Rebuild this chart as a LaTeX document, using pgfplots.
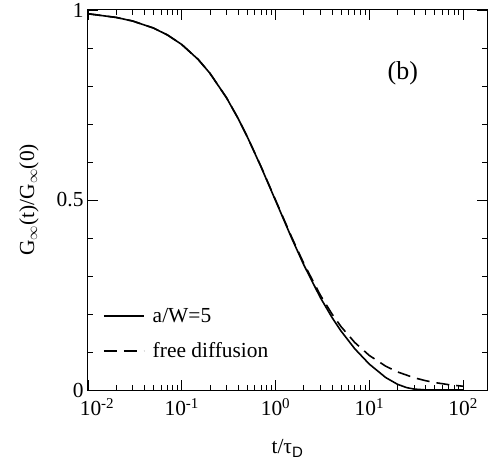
\documentclass[border=0pt]{standalone}
\usepackage{fontspec}
\setmainfont{Liberation Serif}
\setsansfont{Liberation Sans}
\usepackage{pgfplots}
\pgfplotsset{compat=1.18}
\newcommand{\bigf}{\fontsize{21.5}{25}\selectfont}
\begin{document}
\begin{tikzpicture}[font=\bigf]
\begin{axis}[
  scale only axis,
  width=399bp, height=380bp,
  xmode=log,
  xmin=0.01, xmax=180,
  ymin=0, ymax=1,
  axis line style={line width=1bp},
  every tick/.style={black, line width=0.8bp},
  major tick length=10bp, minor tick length=5bp,
  xtick={0.01,0.1,1,10,100},
  xticklabels={\hspace{18bp}10\textsuperscript{-2},10\textsuperscript{-1},10\textsuperscript{0},10\textsuperscript{1},10\textsuperscript{2}},
  ytick={0,0.5,1},
  yticklabels={0,0.5,1},
  minor ytick={0.1,0.2,0.3,0.4,0.6,0.7,0.8,0.9},
  tick label style={font=\bigf},
  xticklabel style={yshift=-5bp},
  yticklabel style={xshift=-1bp},
  xlabel={t/τ\textsubscript{\sffamily D}},
  ylabel={G$_\infty$(t)/G$_\infty$(0)},
  label style={font=\bigf},
  xlabel style={at={(axis description cs:0.5,-0.168)}, anchor=base},
  ylabel style={at={(axis description cs:-0.148,0.5)}, anchor=center},
  legend cell align=left,
  legend style={draw=none, fill=none, at={(rel axis cs:0.03,0.226)}, anchor=north west,
    font=\bigf, row sep=15bp, column sep=6bp},
  legend image code/.code={\draw[#1] (0bp,0bp) -- (40bp,0bp);},
]
\addplot[black, line width=1.6bp] coordinates {
(0.01,0.9901) (0.02,0.9804) (0.03,0.9709) (0.05,0.9524) (0.07,0.9346)
(0.1,0.9091) (0.15,0.8696) (0.2,0.8333) (0.3,0.7690) (0.4,0.7140)
(0.5,0.6662) (0.7,0.5874) (1,0.4986) (1.5,0.3974) (2,0.3295)
(3,0.2436) (4,0.1910) (5,0.1551) (7,0.1085) (10,0.0681)
(15,0.0326) (20,0.0150) (25,0.0063) (30,0.0024) (40,0.0002)
(50,0) (70,0) (100,0)
};
\addlegendentry{a/W=5}
\addplot[black, line width=1.6bp, dash pattern=on 13bp off 7bp] coordinates {
(0.01,0.9901) (0.02,0.9804) (0.03,0.9709) (0.05,0.9524) (0.07,0.9346)
(0.1,0.9091) (0.15,0.8696) (0.2,0.8333) (0.3,0.7692) (0.4,0.7143)
(0.5,0.6667) (0.7,0.5882) (1,0.5) (1.5,0.4) (2,0.3333)
(3,0.25) (4,0.2) (5,0.1667) (7,0.125) (10,0.0909)
(15,0.0625) (20,0.0476) (30,0.0323) (40,0.0244) (50,0.0196)
(70,0.0141) (100,0.0099)
};
\addlegendentry{free diffusion}
\node[font=\fontsize{26}{30}\selectfont] at (rel axis cs:0.789,0.834) {(b)};
\end{axis}
\pgfresetboundingbox
\path[use as bounding box] ([shift={(-88bp,-74bp)}]current axis.south west) rectangle ([shift={(4bp,10bp)}]current axis.north east);
\end{tikzpicture}
\end{document}
